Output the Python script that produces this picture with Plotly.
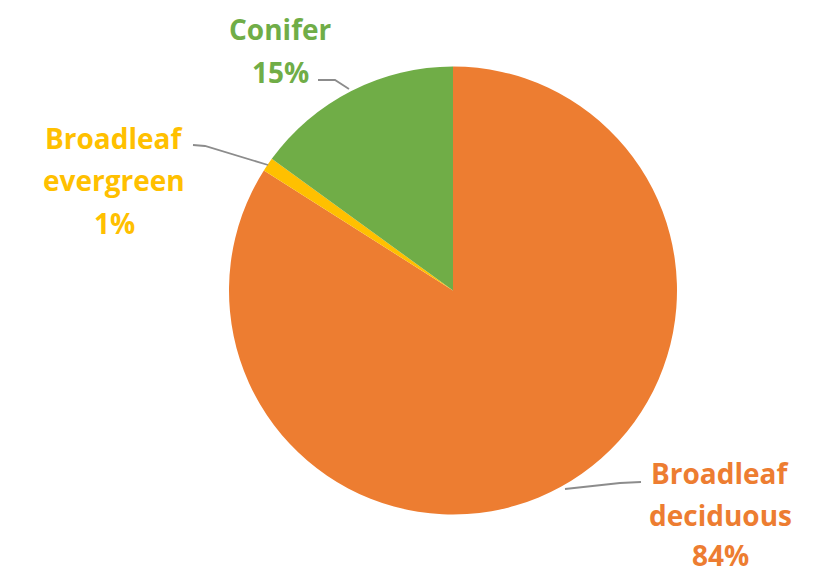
import plotly.graph_objects as go

categories = ["Broadleaf deciduous", "Broadleaf evergreen", "Conifer"]
values = [84, 1, 15]
colors = ["#ED7D31", "#FFC000", "#70AD47"]
label_lines = [["Broadleaf", "deciduous", "84%"],
               ["Broadleaf", "evergreen", "1%"],
               ["Conifer", "15%"]]

# the page body has an 8px margin, so the figure is drawn at (8, 8)
OFF = 8
W, H = 830 - OFF, 575 - OFF


def px(x):
    return (x - OFF) / W


def py(y):
    return 1 - (y - OFF) / H


fig = go.Figure(go.Pie(
    labels=categories, values=values, sort=False, direction="clockwise",
    rotation=0, textinfo="none", hoverinfo="label+percent",
    marker=dict(colors=colors, line=dict(width=0)),
    domain=dict(x=[px(229), px(677)], y=[py(515), py(66)]),
    showlegend=False,
))

# label positions (pixel centres of each text line)
label_pos = [
    (720, [473, 515, 555]),
    (114, [138, 180.5, 223]),
    (280, [29, 72]),
]
annotations = []
for lines, (cx, ys), col in zip(label_lines, label_pos, colors):
    for t, yy in zip(lines, ys):
        annotations.append(dict(
            text=t, x=px(cx), y=py(yy), xref="paper", yref="paper",
            xanchor="center", yanchor="middle", showarrow=False, borderpad=0,
            font=dict(family="Open Sans", size=28, color=col, weight="bold"),
        ))

leaders = [
    [(641, 482), (620, 483), (565, 489)],
    [(193, 145), (205, 146), (268, 165)],
    [(318, 80), (335, 80), (349, 89)],
]
shapes = []
for pts in leaders:
    path = "M " + " L ".join(f"{px(x)},{py(y)}" for x, y in pts)
    shapes.append(dict(type="path", path=path, xref="paper", yref="paper",
                       line=dict(color="#8C8C8C", width=1.8)))

fig.update_layout(
    width=W, height=H, margin=dict(l=0, r=0, t=0, b=0),
    paper_bgcolor="white", plot_bgcolor="white",
    annotations=annotations, shapes=shapes,
)
fig.write_html("out.html")
